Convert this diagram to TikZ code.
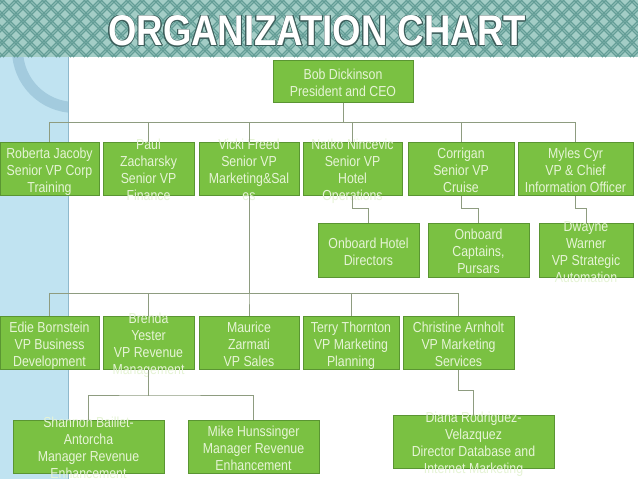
\documentclass[tikz,border=0pt]{standalone}
\usepackage{fontspec}
\usepackage{tikz}
\usepackage[copies]{contour}
\usetikzlibrary{calc}
\setmainfont{Liberation Sans}
\newfontfamily\boxfont{Liberation Sans}[FakeStretch=0.85]
\newfontfamily\headfont{Liberation Sans}[FakeStretch=0.85]
\definecolor{bandteal}{HTML}{A3CDC6}
\definecolor{banddark}{HTML}{639D96}
\definecolor{titleshade}{HTML}{3E5F5C}
\definecolor{stripblue}{HTML}{C0E3F1}
\definecolor{stripline}{HTML}{8FB9CC}
\definecolor{ringblue}{HTML}{A3CBDE}
\definecolor{boxgreen}{HTML}{7AC142}
\definecolor{boxline}{HTML}{5A9532}
\definecolor{boxtext}{HTML}{E6F4D6}
\definecolor{linkgray}{HTML}{8E9C80}
\contourlength{0.7pt}
\newcommand{\btext}[1]{\smash{\raisebox{-7pt}{\begin{tabular}{@{}c@{}}#1\end{tabular}}}}
\tikzset{
  ebox/.style={draw=boxline,fill=boxgreen,line width=1pt,text=boxtext,font=\boxfont\fontsize{14.5}{17}\selectfont,inner sep=0pt,minimum height=53pt},
  link/.style={draw=linkgray,line width=0.8pt},
}

\begin{document}
\begin{tikzpicture}[x=1pt,y=-1pt,
  top/.style={ebox,minimum height=42pt},
  lab/.style={font=\headfont\bfseries\fontsize{43}{43}\selectfont,text=white}]
  \useasboundingbox (0,0) rectangle (638,479);
  % backdrop
  \fill[white] (0,0) rectangle (638,479);
  \fill[stripblue] (0,57) rectangle (68,479);
  \begin{scope}
    \clip (0,57) rectangle (68,479);
    \draw[ringblue,line width=11pt] (75,50) circle (57.5);
  \end{scope}
  \draw[stripline] (68,57) -- (68,479);
  \fill[bandteal] (0,0) rectangle (638,57);
  \begin{scope}
    \clip (0,0) rectangle (638,57);
    \foreach \k in {-70,-56,...,640} {
      \draw[banddark,line width=1.1pt] (\k,0) -- ++(57,57);
      \draw[banddark,line width=1.1pt] (\k+3,0) -- ++(57,57);
      \draw[banddark,line width=1.1pt] (\k+57,0) -- ++(-57,57);
      \draw[banddark,line width=1.1pt] (\k+60,0) -- ++(-57,57);
    }
  \end{scope}
  \node[lab] (title) at (317,31.5) {\contour{titleshade}{ORGANIZATION CHART}};
  % top
  \node[top,minimum width=140pt] (ceo) at (343,81) {\btext{Bob Dickinson\\President and CEO}};
  % senior vps
  \node[ebox,minimum width=99pt] (rj) at (49.5,168.5) {\btext{Roberta Jacoby\\Senior VP Corp\\Training}};
  \node[ebox,minimum width=91pt] (pz) at (148.5,168.5) {\btext{Paul\\Zacharsky\\Senior VP\\Finance}};
  \node[ebox,minimum width=100pt] (vf) at (249,168.5) {\btext{Vicki Freed\\Senior VP\\Marketing\&Sal\\es}};
  \node[ebox,minimum width=99pt] (nn) at (352.5,168.5) {\btext{Natko Nincevic\\Senior VP\\Hotel\\Operations}};
  \node[ebox,minimum width=106pt] (co) at (461,168.5) {\btext{Corrigan\\Senior VP\\Cruise}};
  \node[ebox,minimum width=115pt] (mc) at (575.5,168.5) {\btext{Myles Cyr\\VP \& Chief\\Information Officer}};
  \coordinate (bus1) at (343,122);
  \foreach \n in {rj,pz,vf,nn,co,mc} \draw[link] (ceo.south) |- (bus1) -| (\n.north);
  % operations
  \node[ebox,minimum width=101pt,minimum height=54pt] (ohd) at (368.5,250) {\btext{Onboard Hotel\\Directors}};
  \node[ebox,minimum width=101pt,minimum height=54pt] (ocp) at (478.5,250) {\btext{Onboard\\Captains,\\Pursars}};
  \node[ebox,minimum width=94pt,minimum height=54pt] (dw) at (586,250) {\btext{Dwayne\\Warner\\VP Strategic\\Automation}};
  \draw[link] (nn.south) -- ++(0,13) -| (ohd.north);
  \draw[link] (co.south) -- ++(0,13) -| (ocp.north);
  \draw[link] (mc.south) -- ++(0,13) -| (dw.north);
  % marketing and sales
  \node[ebox,minimum width=99pt] (eb) at (49.5,342.5) {\btext{Edie Bornstein\\VP Business\\Development}};
  \node[ebox,minimum width=91pt] (by) at (148.5,342.5) {\btext{Brenda\\Yester\\VP Revenue\\Management}};
  \node[ebox,minimum width=100pt] (mz) at (249,342.5) {\btext{Maurice\\Zarmati\\VP Sales}};
  \node[ebox,minimum width=96pt] (tt) at (351,342.5) {\btext{Terry Thornton\\VP Marketing\\Planning}};
  \node[ebox,minimum width=111pt] (ca) at (458.5,342.5) {\btext{Christine Arnholt\\VP Marketing\\Services}};
  \coordinate (bus2) at (249,293);
  \foreach \n in {eb,by,mz,tt,ca} \draw[link] (vf.south) |- (bus2) -| (\n.north);
  % managers
  \node[ebox,minimum width=151pt] (sb) at (88.5,446.5) {\btext{Shannon Baillet-\\Antorcha\\Manager Revenue\\Enhancement}};
  \node[ebox,minimum width=131pt] (mh) at (253.5,446.5) {\btext{Mike Hunssinger\\Manager Revenue\\Enhancement}};
  \node[ebox,minimum width=161pt] (dr) at (473.5,441.5) {\btext{Diana Rodriguez-\\Velazquez\\Director Database and\\Internet Marketing}};
  \coordinate (bus3) at (149,395);
  \foreach \n in {sb,mh} \draw[link] (by.south) |- (bus3) -| (\n.north);
  \draw[link] (ca.south) -- ++(0,21) -| (dr.north);
\end{tikzpicture}
\end{document}
